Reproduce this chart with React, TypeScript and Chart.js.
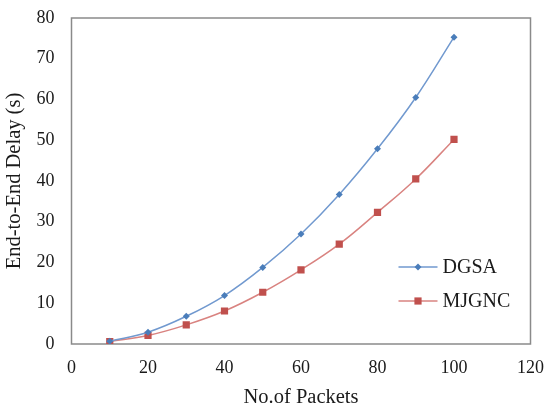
import React, { useEffect, useRef } from "react";
import { Chart, registerables } from "chart.js";

Chart.register(...registerables);

const packets = [10, 20, 30, 40, 50, 60, 70, 80, 90, 100];
const dgsa = [0.7, 2.9, 6.8, 11.9, 18.8, 27.0, 36.7, 47.9, 60.5, 75.3];
const mjgnc = [0.6, 2.1, 4.7, 8.1, 12.7, 18.2, 24.5, 32.3, 40.5, 50.2];
const seriesNames = ["DGSA", "MJGNC"];
const xTitle = "No.of Packets";
const yTitle = "End-to-End Delay (s)";

const FONT = "'Liberation Serif', 'Times New Roman', serif";
const BLUE_LINE = "#7199CF";
const BLUE_MARK = "#4A7DBA";
const RED_LINE = "#D98380";
const RED_MARK = "#C0504D";

const borderPlugin = {
  id: "plotBorder",
  beforeDatasetsDraw(chart: any) {
    const { ctx, chartArea } = chart;
    ctx.save();
    ctx.strokeStyle = "#8a8a8a";
    ctx.lineWidth = 1.5;
    ctx.strokeRect(chartArea.left, chartArea.top, chartArea.right - chartArea.left, chartArea.bottom - chartArea.top);
    ctx.restore();
  },
};

const legendPlugin = {
  id: "customLegend",
  afterDraw(chart: any) {
    const { ctx, chartArea } = chart;
    const x0 = chartArea.right - 132;
    const x1 = chartArea.right - 93;
    const tx = chartArea.right - 88;
    const rows = [
      { y: chartArea.bottom - 77, line: BLUE_LINE, mark: BLUE_MARK, shape: "diamond", label: seriesNames[0] },
      { y: chartArea.bottom - 43, line: RED_LINE, mark: RED_MARK, shape: "square", label: seriesNames[1] },
    ];
    ctx.save();
    rows.forEach((r) => {
      ctx.strokeStyle = r.line;
      ctx.lineWidth = 1.5;
      ctx.beginPath();
      ctx.moveTo(x0, r.y);
      ctx.lineTo(x1, r.y);
      ctx.stroke();
      const cx = (x0 + x1) / 2;
      ctx.fillStyle = r.mark;
      ctx.beginPath();
      if (r.shape === "diamond") {
        ctx.moveTo(cx - 3.5, r.y);
        ctx.lineTo(cx, r.y - 3.5);
        ctx.lineTo(cx + 3.5, r.y);
        ctx.lineTo(cx, r.y + 3.5);
        ctx.closePath();
      } else {
        ctx.rect(cx - 3.6, r.y - 3.6, 7.2, 7.2);
      }
      ctx.fill();
      ctx.fillStyle = "#1a1a1a";
      ctx.font = `20px ${FONT}`;
      ctx.textAlign = "left";
      ctx.textBaseline = "middle";
      ctx.fillText(r.label, tx, r.y + 1);
    });
    ctx.restore();
  },
};

export default function App() {
  const ref = useRef<HTMLCanvasElement | null>(null);
  useEffect(() => {
    if (!ref.current) return;
    const chart = new Chart(ref.current, {
      type: "line",
      data: {
        datasets: [
          {
            label: seriesNames[0],
            data: packets.map((x, i) => ({ x, y: dgsa[i] })),
            borderColor: BLUE_LINE,
            backgroundColor: BLUE_MARK,
            borderWidth: 1.5,
            pointStyle: "rectRot",
            pointRadius: 3.5,
            pointBorderWidth: 0,
            pointBackgroundColor: BLUE_MARK,
            tension: 0.4,
          },
          {
            label: seriesNames[1],
            data: packets.map((x, i) => ({ x, y: mjgnc[i] })),
            borderColor: RED_LINE,
            backgroundColor: RED_MARK,
            borderWidth: 1.5,
            pointStyle: "rect",
            pointRadius: 5.1,
            pointBorderWidth: 0,
            pointBackgroundColor: RED_MARK,
            tension: 0.4,
          },
        ],
      },
      options: {
        responsive: false,
        animation: false,
        devicePixelRatio: 1,
        layout: { padding: { left: 0, top: 18, right: 15.5, bottom: 0 } },
        plugins: { legend: { display: false }, tooltip: { enabled: false } },
        scales: {
          x: {
            type: "linear",
            min: 0,
            max: 120,
            ticks: { stepSize: 20, padding: 13, color: "#1a1a1a", font: { family: FONT, size: 18 } },
            grid: { display: false, drawTicks: false },
            border: { display: false },
            title: { display: true, text: xTitle, color: "#1a1a1a", font: { family: FONT, size: 20.5, lineHeight: 1.05 }, padding: { top: 0, bottom: 0 } },
            afterFit(scale: any) {
              scale.height = 64;
              scale.paddingLeft = 0;
              scale.paddingRight = 0;
            },
          },
          y: {
            min: 0,
            max: 80,
            ticks: { stepSize: 10, padding: 17, color: "#1a1a1a", font: { family: FONT, size: 18 } },
            grid: { display: false, drawTicks: false },
            border: { display: false },
            title: { display: true, text: yTitle, color: "#1a1a1a", font: { family: FONT, size: 20.5 }, padding: { top: 2, bottom: 0 } },
            afterFit(scale: any) {
              scale.width = 71.5;
              scale.paddingTop = 0;
              scale.paddingBottom = 0;
            },
          },
        },
      },
      plugins: [borderPlugin, legendPlugin],
    });
    return () => chart.destroy();
  }, []);
  return (
    <div style={{ position: "absolute", left: 0, top: 0, width: 546, height: 408, background: "#fff" }}>
      <canvas ref={ref} width={546} height={408} />
    </div>
  );
}
